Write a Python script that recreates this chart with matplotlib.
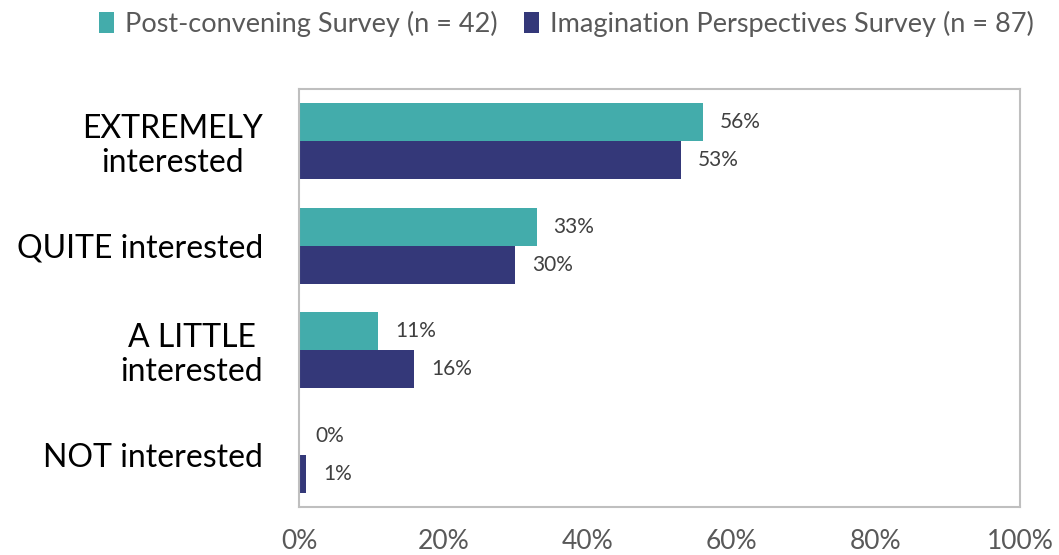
import matplotlib
matplotlib.use("Agg")
import matplotlib.pyplot as plt
import numpy as np

categories = ["EXTREMELY\ninterested", "QUITE interested", "A LITTLE\ninterested", "NOT interested"]
post_convening = [56, 33, 11, 0]
imagination = [53, 30, 16, 1]
series_names = ["Post-convening Survey (n = 42)", "Imagination Perspectives Survey (n = 87)"]
xticks = [0, 20, 40, 60, 80, 100]

teal = "#43ACAB"
navy = "#343879"

plt.rcParams['font.family'] = ['Lato', 'DejaVu Sans']

fig = plt.figure(figsize=(10.59, 5.55), dpi=100)
ax = fig.add_axes([0.2823, 0.0865, 0.6809, 0.7531])

y = np.arange(len(categories))
h = 0.365
b1 = ax.barh(y - h / 2, post_convening, height=h, color=teal, label=series_names[0])
b2 = ax.barh(y + h / 2, imagination, height=h, color=navy, label=series_names[1])

for bars, vals in ((b1, post_convening), (b2, imagination)):
    for bar, v in zip(bars, vals):
        ax.annotate(f"{v}%", (v, bar.get_y() + bar.get_height() / 2),
                    xytext=(12, 0), textcoords="offset points",
                    va="center", ha="left", fontsize=15, color="#404040")

ax.set_xlim(0, 100)
ax.set_ylim(3.5, -0.5)
ax.set_yticks(y)
ax.set_yticklabels(categories, fontsize=23, color="black", multialignment="center",
                   linespacing=1.15)
ax.set_xticks(xticks)
ax.set_xticklabels([f"{t}%" for t in xticks], fontsize=19, color="#595959")
ax.tick_params(length=0)
ax.tick_params(axis="y", pad=26)
ax.tick_params(axis="x", pad=16)
for s in ax.spines.values():
    s.set_color("#BFBFBF")
    s.set_linewidth(1.5)

fig.legend(handles=[b1, b2], loc="upper center", bbox_to_anchor=(0.535, 1.025), ncol=2,
           frameon=False, fontsize=19.5, handlelength=0.55, handleheight=0.8,
           handletextpad=0.4, columnspacing=1.0, labelcolor="#595959")

fig.savefig("out.png", dpi=100)
